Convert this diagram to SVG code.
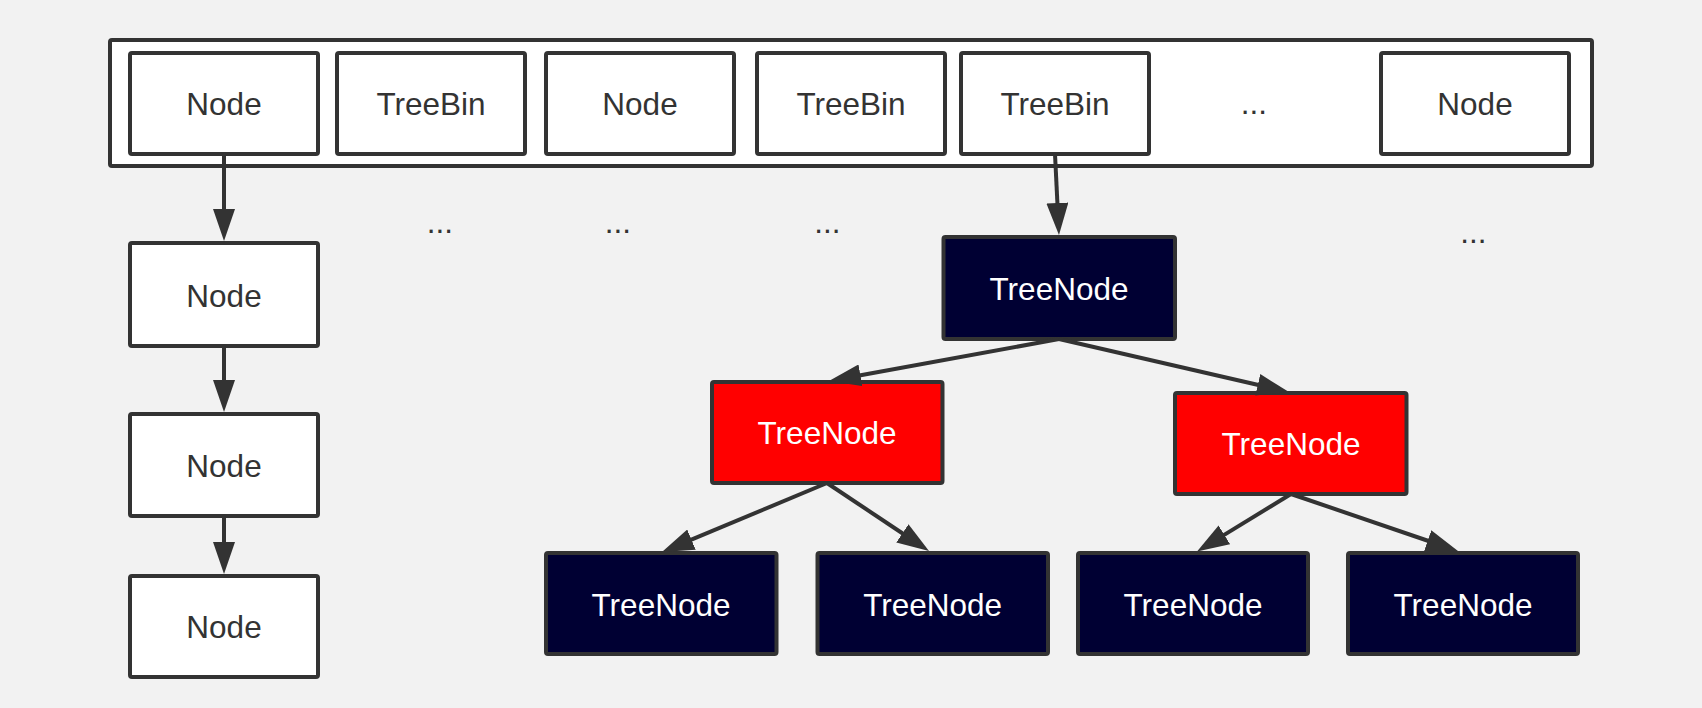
<svg xmlns="http://www.w3.org/2000/svg" width="1702" height="708" viewBox="0 0 1702 708">
<style>
.box{fill:#ffffff;stroke:#333333;stroke-width:4}
.dark{fill:#000033;stroke:#333333;stroke-width:4}
.red{fill:#ff0000;stroke:#333333;stroke-width:4}
.t{font-family:"Liberation Sans",Arial,sans-serif;font-size:31.5px;text-anchor:middle;fill:#333333}
.w{fill:#ffffff}
.edge{stroke:#333333;stroke-width:4;fill:none;marker-end:url(#arr)}
</style>
<defs>
<marker id="arr" markerUnits="userSpaceOnUse" markerWidth="32" markerHeight="22" refX="4" refY="11" orient="auto">
<path d="M0,0 L32,11 L0,22 z" fill="#333333"/>
</marker>
</defs>
<rect x="0" y="0" width="1702" height="708" fill="#f2f2f2"/>
<g id="table">
<rect class="box" x="110" y="40" width="1482" height="126" rx="2"/>
<text class="t" x="1254" y="114">...</text>
</g>
<g id="bin0"><rect class="box" x="130" y="53" width="188" height="101" rx="2"/><text class="t" x="224" y="114.5">Node</text></g>
<g id="bin1"><rect class="box" x="337" y="53" width="188" height="101" rx="2"/><text class="t" x="431" y="114.5">TreeBin</text></g>
<g id="bin2"><rect class="box" x="546" y="53" width="188" height="101" rx="2"/><text class="t" x="640" y="114.5">Node</text></g>
<g id="bin3"><rect class="box" x="757" y="53" width="188" height="101" rx="2"/><text class="t" x="851" y="114.5">TreeBin</text></g>
<g id="bin4"><rect class="box" x="961" y="53" width="188" height="101" rx="2"/><text class="t" x="1055" y="114.5">TreeBin</text></g>
<g id="binN"><rect class="box" x="1381" y="53" width="188" height="101" rx="2"/><text class="t" x="1475" y="114.5">Node</text></g>
<g id="list1"><rect class="box" x="130" y="243" width="188" height="103" rx="2"/><text class="t" x="224" y="306.5">Node</text></g>
<g id="list2"><rect class="box" x="130" y="414" width="188" height="102" rx="2"/><text class="t" x="224" y="476.5">Node</text></g>
<g id="list3"><rect class="box" x="130" y="576" width="188" height="101" rx="2"/><text class="t" x="224" y="637.5">Node</text></g>
<g id="dots">
<text class="t" x="440" y="233">...</text>
<text class="t" x="618" y="233">...</text>
<text class="t" x="827.5" y="233">...</text>
<text class="t" x="1473.5" y="243">...</text>
</g>
<g id="root"><rect class="dark" x="943.5" y="237" width="231.5" height="102" rx="2"/><text class="t w" x="1059" y="299.5">TreeNode</text></g>
<g id="red1"><rect class="red" x="712" y="382" width="230.5" height="101" rx="2"/><text class="t w" x="827" y="444">TreeNode</text></g>
<g id="red2"><rect class="red" x="1175" y="393" width="231.5" height="101" rx="2"/><text class="t w" x="1291" y="455">TreeNode</text></g>
<g id="leaf1"><rect class="dark" x="546" y="553" width="230.5" height="101" rx="2"/><text class="t w" x="661" y="615.5">TreeNode</text></g>
<g id="leaf2"><rect class="dark" x="817.5" y="553" width="230.5" height="101" rx="2"/><text class="t w" x="932.7" y="615.5">TreeNode</text></g>
<g id="leaf3"><rect class="dark" x="1078" y="553" width="230" height="101" rx="2"/><text class="t w" x="1193" y="615.5">TreeNode</text></g>
<g id="leaf4"><rect class="dark" x="1348" y="553" width="230" height="101" rx="2"/><text class="t w" x="1463" y="615.5">TreeNode</text></g>
<g id="connectors">
<path class="edge" d="M224,154 L224,213"/>
<path class="edge" d="M224,346 L224,384"/>
<path class="edge" d="M224,516 L224,546"/>
<path class="edge" d="M1055,154 L1057.6,207"/>
<path class="edge" d="M1059,339 L856.5,376"/>
<path class="edge" d="M1059,339 L1261.7,385.7"/>
<path class="edge" d="M827,483 L687.8,541.2"/>
<path class="edge" d="M827,483 L905.7,535.5"/>
<path class="edge" d="M1291,494 L1220.9,536.9"/>
<path class="edge" d="M1291,494 L1431.5,542"/>
</g>
</svg>
